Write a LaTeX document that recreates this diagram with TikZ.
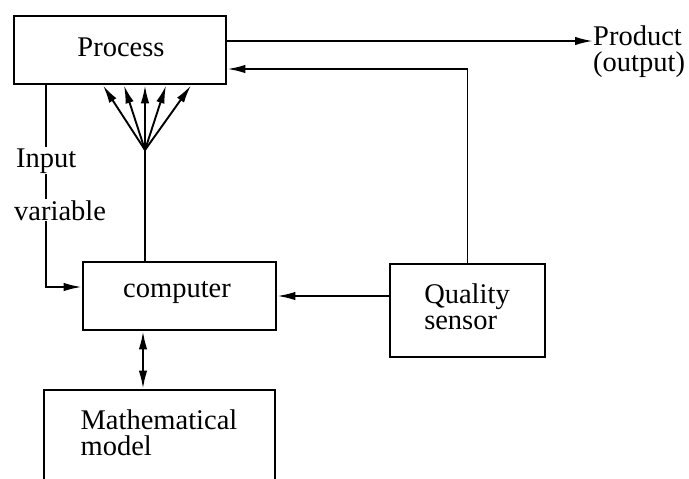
\documentclass[tikz,border=0pt]{standalone}
\usepackage{fontspec}
\setmainfont{Liberation Serif}
\usetikzlibrary{arrows.meta}
\begin{document}
\begin{tikzpicture}[x=1pt,y=-1pt,
  box/.style={draw,line width=2.8pt,inner sep=0pt},
  txt/.style={font=\fontsize{28.5}{26}\selectfont,align=left,inner sep=0pt},
  lbl/.style={font=\fontsize{28.5}{26}\selectfont,inner sep=1pt,fill=white,anchor=base west},
  link/.style={line width=1.9pt},
  tip/.style={-{Latex[length=18pt,width=8.5pt]}},
  bitip/.style={{Latex[length=18pt,width=8.5pt]}-{Latex[length=18pt,width=8.5pt]}}]
\useasboundingbox (0,0) rectangle (689,479);
\fill[white] (0,0) rectangle (689,479);

% blocks
\node[box,minimum width=212pt,minimum height=68pt] (process) at (120,50) {};
\node[txt] (processtxt) at (121,47) {Process};
\node[box,minimum width=193pt,minimum height=68pt] (computer) at (179.5,296) {};
\node[txt] (computertxt) at (177,293) {computer};
\node[box,minimum width=155pt,minimum height=93pt] (sensor) at (467.5,310.5) {};
\node[txt] (sensortxt) at (467,307) {Quality\\sensor};
\node[box,minimum width=231pt,minimum height=120pt] (model) at (159.5,450) {};
\node[txt] (modeltxt) at (159,433) {Mathematical\\model};
\node[txt,anchor=west] (product) at (593,52) {Product\\(output)};

% output and quality feedback
\draw[link,tip] (process.east |- 0,41) -- (product.west |- 0,41);
\draw[link,tip] (sensor.north) |- (process.east |- 0,69);
\draw[link,tip] (sensor.west |- computer) -- (computer.east);

% input variable line
\draw[link,tip] (process.south -| 46,0) |- (computer.west |- 0,287);
\node[lbl] (input) at (15,167) {Input};
\node[lbl] (variable) at (13,220) {variable};

% control fan from the computer to the process
\coordinate (fan) at (145,150);
\draw[link] (computer.north -| fan) -- (fan);
\foreach \xx in {103,124,145,166,191}
  \draw[link,tip] (fan) -- (process.south -| \xx,0);

% computer <-> model
\draw[link,bitip] (computer.south -| 143,0) -- (model.north -| 143,0);
\end{tikzpicture}
\end{document}
